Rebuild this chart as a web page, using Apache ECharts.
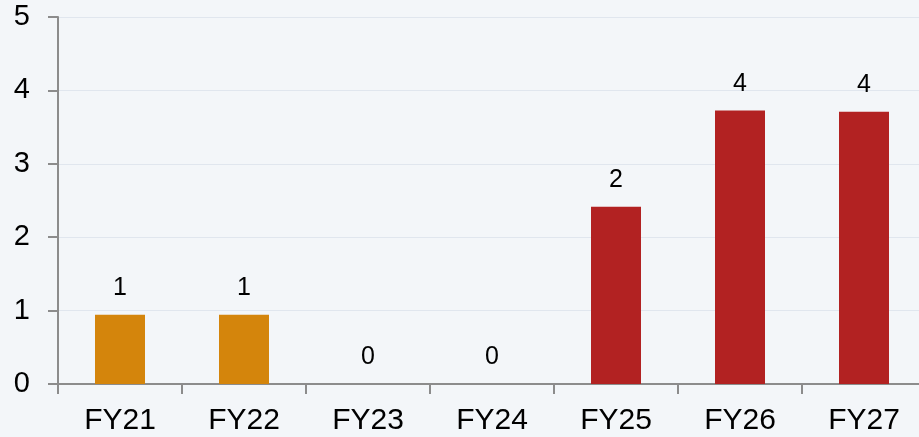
<!DOCTYPE html>
<html>
<head>
<meta charset="utf-8">
<script src="https://cdn.jsdelivr.net/npm/echarts@6/dist/echarts.min.js"></script>
<style>
    html, body { margin: 0; padding: 0; background: #f3f6f9; overflow: hidden; }
    #chart { width: 919px; height: 437px; }
</style>
</head>
<body>
<div id="chart"></div>
<script>
var categories = ['FY21', 'FY22', 'FY23', 'FY24', 'FY25', 'FY26', 'FY27'];
var values = [0.945, 0.945, 0, 0, 2.415, 3.725, 3.71];
var yTicks = [0, 1, 2, 3, 4, 5];
// 前两年用橙色，其余红色
var orangeYears = ['FY21', 'FY22'];

var font = '"Liberation Sans", Arial, sans-serif';

var _pageInit = {
    init: function() {
        this.myChart = echarts.init(document.getElementById('chart'));
        this.myChart.setOption(this.option());
    },
    option: function() {
        return {
            backgroundColor: '#f3f6f9',
            animation: false,
            grid: {
                left: 58,
                right: -7,
                top: 17,
                bottom: 53,
                containLabel: false,
                outerBoundsMode: 'none'
            },
            xAxis: {
                type: 'category',
                data: categories,
                axisLine: { lineStyle: { color: '#8c8c8c', width: 2 } },
                axisTick: { show: true, length: 10, lineStyle: { color: '#8c8c8c', width: 2 } },
                axisLabel: {
                    color: '#000',
                    fontFamily: font,
                    fontSize: 30,
                    margin: 22
                }
            },
            yAxis: {
                type: 'value',
                min: yTicks[0],
                max: yTicks[yTicks.length - 1],
                interval: 1,
                axisLine: { show: true, lineStyle: { color: '#8c8c8c', width: 2 } },
                axisTick: { show: true, length: 10, lineStyle: { color: '#8c8c8c', width: 2 } },
                splitLine: { lineStyle: { color: '#e0e6ee', width: 1 } },
                axisLabel: {
                    color: '#000',
                    fontFamily: font,
                    fontSize: 29,
                    margin: 28
                }
            },
            series: [{
                type: 'bar',
                barWidth: 50,
                data: values,
                itemStyle: {
                    color: function(p) {
                        return orangeYears.indexOf(categories[p.dataIndex]) > -1 ? '#d4850c' : '#b22222';
                    }
                },
                label: {
                    show: true,
                    position: 'top',
                    distance: 14,
                    color: '#000',
                    fontFamily: font,
                    fontSize: 25,
                    formatter: function(p) {
                        return Math.round(p.value);
                    }
                }
            }]
        };
    }
};
_pageInit.init();
</script>
</body>
</html>
